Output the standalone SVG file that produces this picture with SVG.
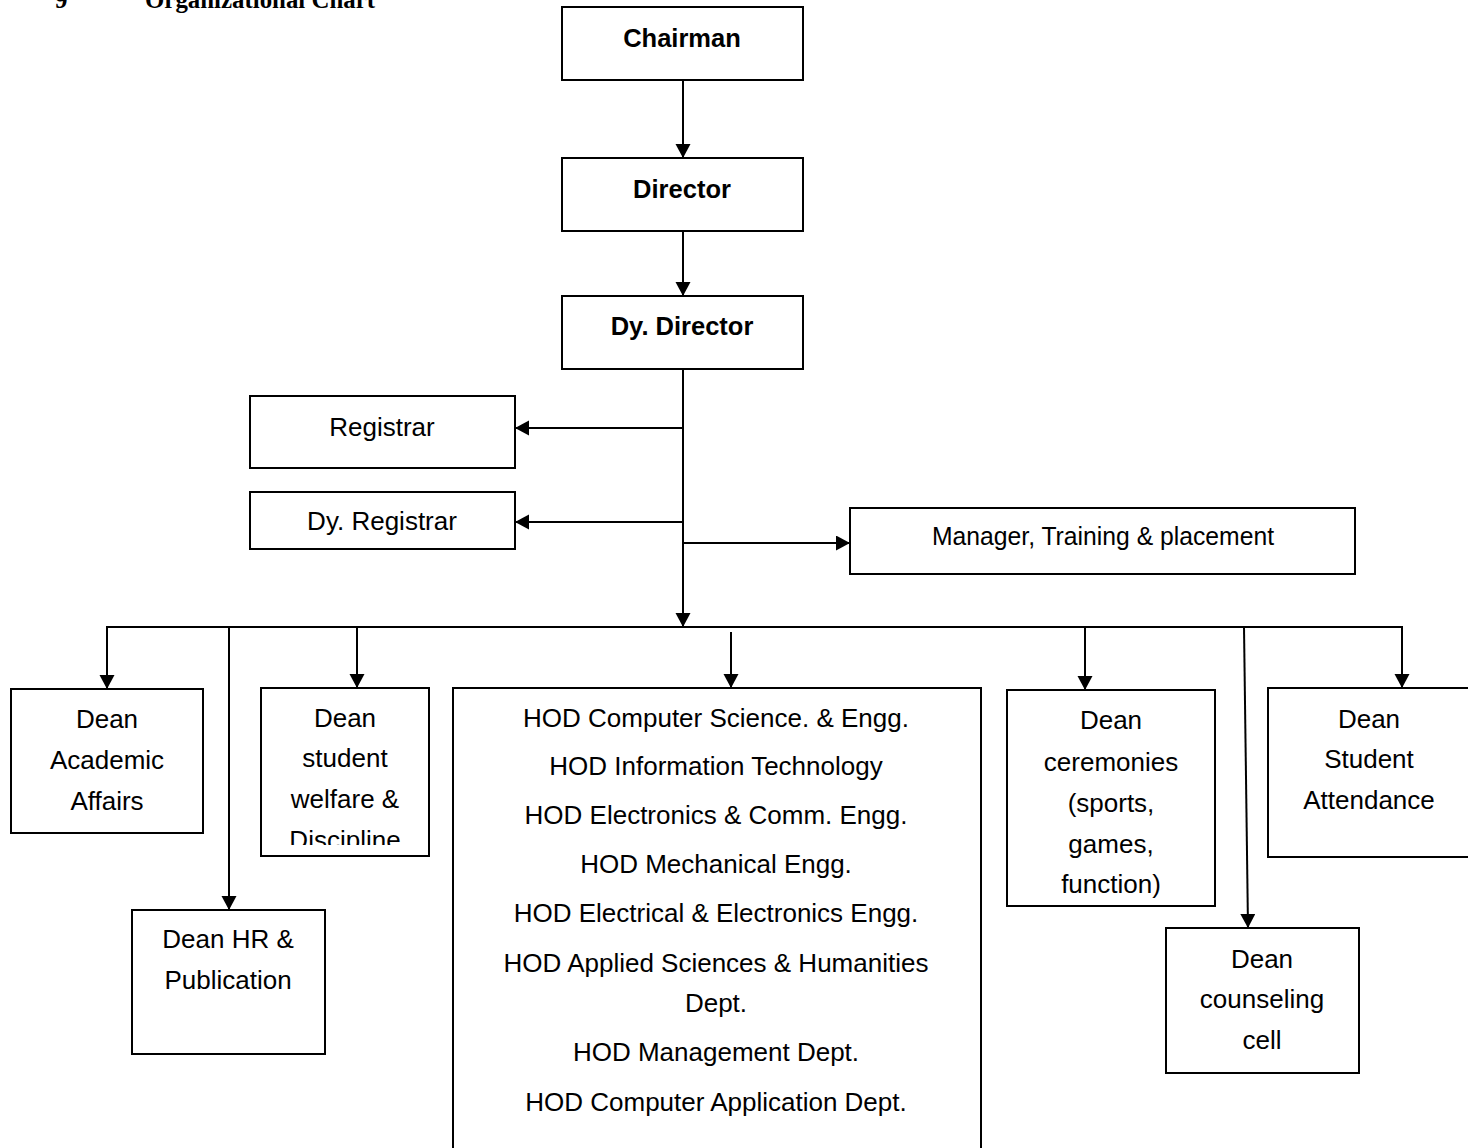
<svg xmlns="http://www.w3.org/2000/svg" width="1468" height="1148" viewBox="0 0 1468 1148">
<style>
.box{fill:#fff;stroke:#000;stroke-width:2}
.t{font-family:"Liberation Sans",Arial,sans-serif;font-size:26px;fill:#000;text-anchor:middle}
.b{font-family:"Liberation Sans",Arial,sans-serif;font-size:25.5px;font-weight:bold;fill:#000;text-anchor:middle}
.title{font-family:"Liberation Serif","Times New Roman",serif;font-size:25px;font-weight:bold;fill:#000}
.c{fill:none;stroke:#000;stroke-width:2}
.a{marker-end:url(#arr)}
</style>
<defs>
<marker id="arr" markerUnits="userSpaceOnUse" markerWidth="17" markerHeight="17" refX="14" refY="7.5" orient="auto">
<path d="M0,0 L14,7.5 L0,15 Z" fill="#000"/>
</marker>
<clipPath id="clipStudent"><rect x="262" y="689" width="166" height="156"/></clipPath>
</defs>
<rect width="1468" height="1148" fill="#fff"/>
<g id="title">
<text class="title" x="55" y="8">9</text>
<text class="title" x="145" y="8" textLength="230" lengthAdjust="spacingAndGlyphs">Organizational Chart</text>
</g>
<g id="connectors">
<line class="c a" x1="683" y1="80" x2="683" y2="158"/>
<line class="c a" x1="683" y1="231" x2="683" y2="296"/>
<line class="c a" x1="683" y1="369" x2="683" y2="627"/>
<line class="c a" x1="683" y1="428" x2="515" y2="428"/>
<line class="c a" x1="683" y1="522" x2="515" y2="522"/>
<line class="c a" x1="683" y1="543" x2="850" y2="543"/>
<line class="c" x1="106" y1="627" x2="1403" y2="627"/>
<line class="c a" x1="107" y1="627" x2="107" y2="689"/>
<line class="c a" x1="229" y1="627" x2="229" y2="910"/>
<line class="c a" x1="357" y1="627" x2="357" y2="688"/>
<line class="c a" x1="731" y1="632" x2="731" y2="688"/>
<line class="c a" x1="1085" y1="627" x2="1085" y2="690"/>
<line class="c a" x1="1244" y1="627" x2="1248" y2="928"/>
<line class="c a" x1="1402" y1="627" x2="1402" y2="688"/>
</g>
<g id="chairman">
<rect class="box" x="562" y="7" width="241" height="73"/>
<text class="b" x="682" y="47">Chairman</text>
</g>
<g id="director">
<rect class="box" x="562" y="158" width="241" height="73"/>
<text class="b" x="682" y="198">Director</text>
</g>
<g id="dy-director">
<rect class="box" x="562" y="296" width="241" height="73"/>
<text class="b" x="682" y="335">Dy. Director</text>
</g>
<g id="registrar">
<rect class="box" x="250" y="396" width="265" height="72"/>
<text class="t" x="382" y="436">Registrar</text>
</g>
<g id="dy-registrar">
<rect class="box" x="250" y="492" width="265" height="57"/>
<text class="t" x="382" y="530">Dy. Registrar</text>
</g>
<g id="manager-tp">
<rect class="box" x="850" y="508" width="505" height="66"/>
<text class="t" x="1103" y="545" textLength="342" lengthAdjust="spacingAndGlyphs">Manager, Training &amp; placement</text>
</g>
<g id="dean-academic">
<rect class="box" x="11" y="689" width="192" height="144"/>
<text class="t" x="107" y="728">Dean</text>
<text class="t" x="107" y="769">Academic</text>
<text class="t" x="107" y="810">Affairs</text>
</g>
<g id="dean-hr">
<rect class="box" x="132" y="910" width="193" height="144"/>
<text class="t" x="228" y="948">Dean HR &amp;</text>
<text class="t" x="228" y="989">Publication</text>
</g>
<g id="dean-student-welfare">
<rect class="box" x="261" y="688" width="168" height="168"/>
<g clip-path="url(#clipStudent)">
<text class="t" x="345" y="727">Dean</text>
<text class="t" x="345" y="767">student</text>
<text class="t" x="345" y="808">welfare &amp;</text>
<text class="t" x="345" y="849">Discipline</text>
</g>
</g>
<g id="hod">
<rect class="box" x="453" y="688" width="528" height="480"/>
<text class="t" x="716" y="727">HOD Computer Science. &amp; Engg.</text>
<text class="t" x="716" y="775">HOD Information Technology</text>
<text class="t" x="716" y="824">HOD Electronics &amp; Comm. Engg.</text>
<text class="t" x="716" y="873">HOD Mechanical Engg.</text>
<text class="t" x="716" y="922">HOD Electrical &amp; Electronics Engg.</text>
<text class="t" x="716" y="972">HOD Applied Sciences &amp; Humanities</text>
<text class="t" x="716" y="1012">Dept.</text>
<text class="t" x="716" y="1061">HOD Management Dept.</text>
<text class="t" x="716" y="1111">HOD Computer Application Dept.</text>
</g>
<g id="dean-ceremonies">
<rect class="box" x="1007" y="690" width="208" height="216"/>
<text class="t" x="1111" y="729">Dean</text>
<text class="t" x="1111" y="771">ceremonies</text>
<text class="t" x="1111" y="812">(sports,</text>
<text class="t" x="1111" y="853">games,</text>
<text class="t" x="1111" y="893">function)</text>
</g>
<g id="dean-counseling">
<rect class="box" x="1166" y="928" width="193" height="145"/>
<text class="t" x="1262" y="968">Dean</text>
<text class="t" x="1262" y="1008">counseling</text>
<text class="t" x="1262" y="1049">cell</text>
</g>
<g id="dean-attendance">
<rect class="box" x="1268" y="688" width="203" height="169"/>
<text class="t" x="1369" y="728">Dean</text>
<text class="t" x="1369" y="768">Student</text>
<text class="t" x="1369" y="809">Attendance</text>
</g>
</svg>
